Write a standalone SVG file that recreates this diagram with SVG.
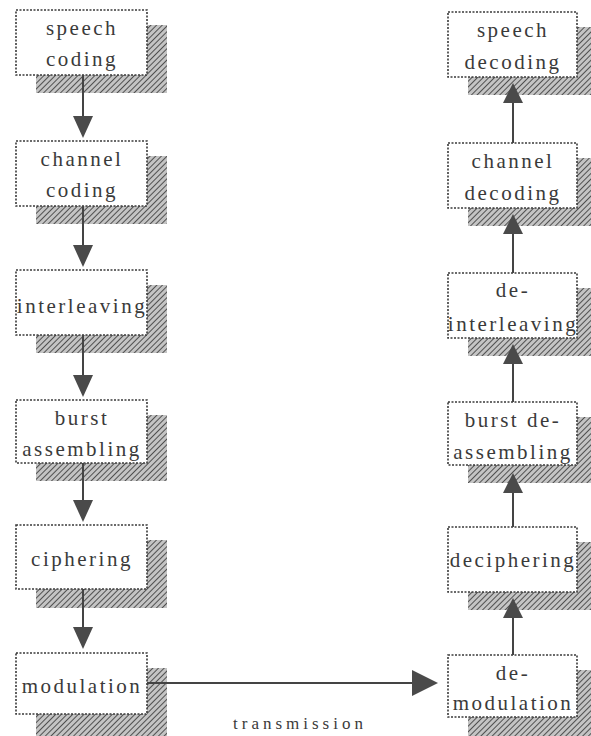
<svg xmlns="http://www.w3.org/2000/svg" width="591" height="736" viewBox="0 0 591 736">
<style>
.box{fill:#fff;stroke:#3a3a3a;stroke-width:1.6;stroke-dasharray:2 1.5}
.shadow{fill:url(#hatch)}
.t{font-family:"Liberation Serif","Times New Roman",serif;font-size:21px;letter-spacing:2.5px;fill:#3a3a3a;text-anchor:middle}
.tl{font-family:"Liberation Serif","Times New Roman",serif;font-size:17px;letter-spacing:4px;fill:#3a3a3a;text-anchor:middle}
.line{stroke:#444;stroke-width:2;fill:none}
.head{fill:#4a4a4a}
</style>
<defs>
<pattern id="hatch" width="4" height="4" patternUnits="userSpaceOnUse" patternTransform="rotate(45)">
<rect width="4" height="4" fill="#c4c4c4"/>
<line x1="0" y1="0" x2="0" y2="4" stroke="#505050" stroke-width="2"/>
</pattern>
</defs>
<rect width="591" height="736" fill="#fff"/>

<g id="speech-coding">
<rect class="shadow" x="36" y="25" width="131" height="68"/>
<rect class="box" x="16" y="10" width="131" height="65"/>
<text class="t" x="82" y="35">speech</text><text class="t" x="82" y="66">coding</text>
</g>
<g id="channel-coding">
<rect class="shadow" x="36" y="156" width="131" height="68"/>
<rect class="box" x="16" y="141" width="131" height="65"/>
<text class="t" x="82" y="166">channel</text><text class="t" x="82" y="197">coding</text>
</g>
<g id="interleaving">
<rect class="shadow" x="36" y="285" width="131" height="68"/>
<rect class="box" x="16" y="270" width="131" height="65"/>
<text class="t" x="82" y="313">interleaving</text>
</g>
<g id="burst-assembling">
<rect class="shadow" x="36" y="415" width="131" height="66"/>
<rect class="box" x="16" y="400" width="131" height="63"/>
<text class="t" x="82" y="425">burst</text><text class="t" x="82" y="456">assembling</text>
</g>
<g id="ciphering">
<rect class="shadow" x="36" y="540" width="131" height="68"/>
<rect class="box" x="16" y="525" width="131" height="64"/>
<text class="t" x="82" y="566">ciphering</text>
</g>
<g id="modulation">
<rect class="shadow" x="36" y="668" width="131" height="68"/>
<rect class="box" x="16" y="653" width="131" height="61"/>
<text class="t" x="82" y="693">modulation</text>
</g>

<g id="speech-decoding">
<rect class="shadow" x="468" y="27" width="131" height="68"/>
<rect class="box" x="448" y="12" width="129" height="65"/>
<text class="t" x="513" y="37">speech</text><text class="t" x="513" y="69">decoding</text>
</g>
<g id="channel-decoding">
<rect class="shadow" x="468" y="158" width="131" height="68"/>
<rect class="box" x="448" y="143" width="129" height="65"/>
<text class="t" x="513" y="168">channel</text><text class="t" x="513" y="200">decoding</text>
</g>
<g id="de-interleaving">
<rect class="shadow" x="468" y="288" width="131" height="68"/>
<rect class="box" x="448" y="273" width="129" height="65"/>
<text class="t" x="513" y="297">de-</text><text class="t" x="513" y="331">interleaving</text>
</g>
<g id="burst-de-assembling">
<rect class="shadow" x="468" y="417" width="131" height="66"/>
<rect class="box" x="448" y="402" width="129" height="63"/>
<text class="t" x="513" y="427">burst de-</text><text class="t" x="513" y="459">assembling</text>
</g>
<g id="deciphering">
<rect class="shadow" x="468" y="542" width="131" height="68"/>
<rect class="box" x="448" y="527" width="129" height="65"/>
<text class="t" x="513" y="567">deciphering</text>
</g>
<g id="de-modulation">
<rect class="shadow" x="468" y="670" width="131" height="68"/>
<rect class="box" x="448" y="655" width="129" height="62"/>
<text class="t" x="513" y="680">de-</text><text class="t" x="513" y="710">modulation</text>
</g>

<g id="connectors">
<line class="line" x1="83" y1="75" x2="83" y2="125"/><polygon class="head" points="73,116 93,116 83,138"/>
<line class="line" x1="83" y1="206" x2="83" y2="254"/><polygon class="head" points="73,245 93,245 83,267"/>
<line class="line" x1="83" y1="335" x2="83" y2="384"/><polygon class="head" points="73,375 93,375 83,397"/>
<line class="line" x1="83" y1="463" x2="83" y2="509"/><polygon class="head" points="73,500 93,500 83,522"/>
<line class="line" x1="83" y1="589" x2="83" y2="636"/><polygon class="head" points="73,627 93,627 83,649"/>
<line class="line" x1="147" y1="683" x2="416" y2="683"/><polygon class="head" points="412,670 412,696 438,683"/>
<line class="line" x1="513" y1="143" x2="513" y2="95"/><polygon class="head" points="503,103 523,103 513,83"/>
<line class="line" x1="513" y1="273" x2="513" y2="226"/><polygon class="head" points="503,234 523,234 513,214"/>
<line class="line" x1="513" y1="402" x2="513" y2="356"/><polygon class="head" points="503,364 523,364 513,344"/>
<line class="line" x1="513" y1="527" x2="513" y2="485"/><polygon class="head" points="503,493 523,493 513,473"/>
<line class="line" x1="513" y1="655" x2="513" y2="610"/><polygon class="head" points="503,618 523,618 513,598"/>
<text class="tl" x="300" y="729">transmission</text>
</g>
</svg>
